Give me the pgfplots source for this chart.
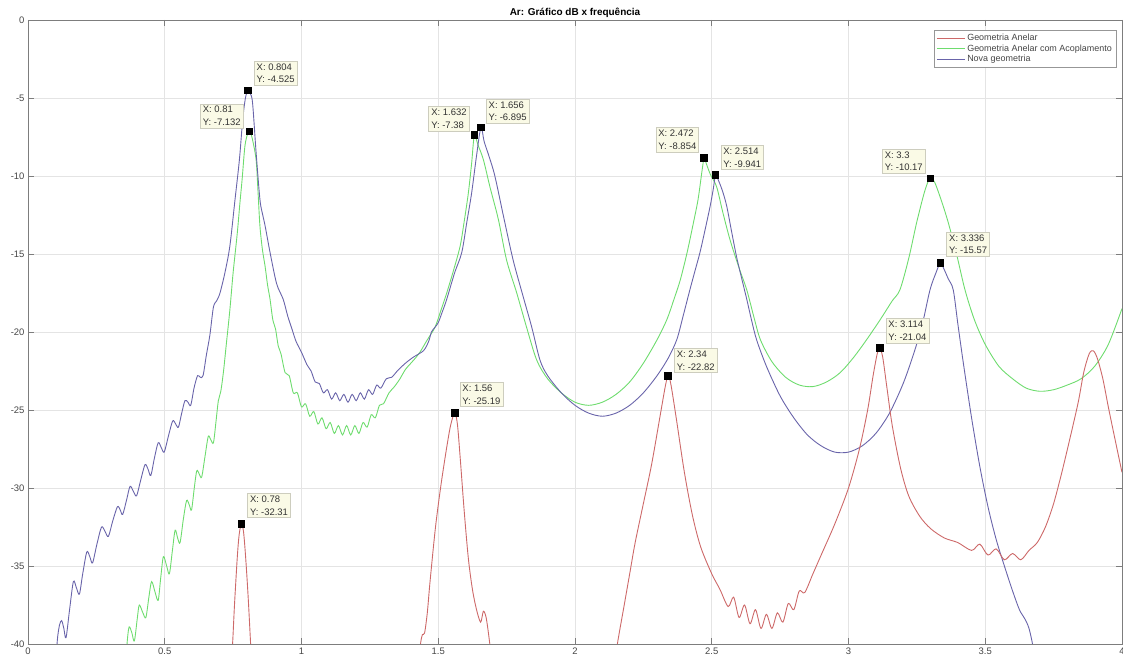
\documentclass[border=0pt]{standalone}
\usepackage{fontspec}
\setmainfont{Liberation Sans}
\usepackage{pgfplots}
\pgfplotsset{compat=1.18}
\definecolor{cred}{RGB}{205,105,105}
\definecolor{cgreen}{RGB}{110,220,110}
\definecolor{cblue}{RGB}{105,100,170}
\definecolor{tipfill}{RGB}{250,250,230}
\definecolor{tipdraw}{RGB}{205,205,190}
\definecolor{axcol}{RGB}{125,125,125}
\definecolor{gridcol}{RGB}{228,228,228}
\definecolor{labcol}{RGB}{70,70,70}
\begin{document}
\begin{tikzpicture}[tip/.style={fill=tipfill,draw=tipdraw,line width=0.6bp,font=\fontsize{9.5}{12.5}\selectfont,align=left,inner sep=2.5bp,text=black!80}]
\begin{axis}[
 scale only axis, width=1094bp, height=624bp,
 xmin=0,xmax=4,ymin=-40,ymax=0,
 xtick={0,0.5,1,1.5,2,2.5,3,3.5,4},
 ytick={-40,-35,-30,-25,-20,-15,-10,-5,0},
 /pgf/number format/assume math mode=true,
 ticklabel style={font=\fontsize{9.5}{11}\selectfont, text=labcol},
 tick align=inside, major tick length=6bp,
 every tick/.style={axcol, line width=0.6bp},
 axis line style={axcol, line width=0.8bp},
 grid=major, major grid style={gridcol, line width=0.6bp},
 title={Ar: Gráfico dB x frequência},
 title style={font=\bfseries\fontsize{10}{12}\selectfont, yshift=-7bp},
 legend style={at={(1,1)},anchor=north east,xshift=-6bp,yshift=-10bp, draw=axcol!80, font=\fontsize{9}{10.5}\selectfont, inner sep=2bp, row sep=-1.5bp, cells={anchor=west}, text=labcol},
 legend image code/.code={\draw[#1,line width=1bp] (0bp,0bp) -- (28bp,0bp);},
 every axis plot/.append style={line width=0.9bp},
]
% Geometria Anelar (first peak)
\addplot[cred, smooth, tension=0.5] coordinates {(0.74,-42) (0.748,-40) (0.755,-37.5) (0.765,-34.5) (0.772,-33) (0.78,-32.31) (0.788,-32.8) (0.796,-34.5) (0.805,-37) (0.814,-40) (0.82,-42)};
\addlegendentry{Geometria Anelar}
% Geometria Anelar com Acoplamento
\addplot[cgreen, smooth, tension=0.5] coordinates {(0.355,-42) (0.363,-39.8) (0.370,-38.9) (0.38,-39.3) (0.389,-39.8) (0.40,-38.3) (0.407,-37.5) (0.42,-38.0) (0.431,-38.3) (0.442,-37) (0.452,-36.0) (0.465,-36.7) (0.476,-37.2) (0.485,-35.8) (0.495,-34.4) (0.507,-35) (0.517,-35.5) (0.528,-34) (0.538,-32.7) (0.547,-33.2) (0.556,-33.5) (0.568,-32) (0.580,-30.8) (0.59,-31.1) (0.598,-31.4) (0.608,-30) (0.617,-28.9) (0.626,-29.1) (0.635,-29.3) (0.647,-28) (0.659,-26.7) (0.668,-26.9) (0.678,-27.1) (0.687,-25.8) (0.696,-24.4) (0.705,-23.8) (0.715,-22.5) (0.725,-20.8) (0.738,-18.6) (0.75,-16.2) (0.765,-13.7) (0.775,-11.7) (0.783,-10.2) (0.793,-8.1) (0.803,-7.3) (0.811,-7.132) (0.82,-7.6) (0.834,-8.95) (0.841,-11) (0.848,-13.2) (0.857,-14.7) (0.867,-15.8) (0.876,-17) (0.885,-17.9) (0.895,-19.2) (0.905,-19.8) (0.915,-20.9) (0.925,-21.4) (0.94,-22.6) (0.955,-22.8) (0.97,-23.9) (0.985,-23.9) (1.0,-24.8) (1.015,-24.6) (1.03,-25.4) (1.045,-25.1) (1.06,-25.9) (1.075,-25.5) (1.09,-26.2) (1.105,-25.8) (1.12,-26.5) (1.135,-26) (1.15,-26.6) (1.165,-26) (1.18,-26.6) (1.195,-26) (1.21,-26.5) (1.225,-25.8) (1.24,-26.1) (1.255,-25.3) (1.27,-25.5) (1.285,-24.7) (1.30,-24.6) (1.32,-23.9) (1.34,-23.5) (1.36,-23.0) (1.38,-22.4) (1.40,-22.0) (1.42,-21.6) (1.433,-21.3) (1.46,-20.5) (1.488,-19.7) (1.51,-18.6) (1.531,-17.5) (1.555,-16.1) (1.58,-14.5) (1.595,-12.9) (1.61,-11.1) (1.622,-9.2) (1.632,-7.38) (1.645,-8.0) (1.665,-8.95) (1.689,-10.7) (1.72,-12.8) (1.75,-15.4) (1.787,-17.5) (1.823,-19.7) (1.86,-21.8) (1.9,-23) (1.95,-23.9) (2.0,-24.5) (2.05,-24.7) (2.1,-24.5) (2.15,-24) (2.2,-23.2) (2.25,-22) (2.3,-20.5) (2.336,-19.2) (2.36,-18) (2.385,-16.66) (2.41,-14.9) (2.433,-13.0) (2.45,-11.5) (2.465,-9.6) (2.472,-8.854) (2.48,-9.2) (2.495,-9.9) (2.518,-10.7) (2.54,-12.3) (2.567,-14.1) (2.6,-15.9) (2.628,-17.3) (2.655,-19.1) (2.678,-20.5) (2.72,-21.9) (2.77,-22.9) (2.82,-23.4) (2.87,-23.5) (2.92,-23.2) (2.97,-22.6) (3.02,-21.6) (3.07,-20.4) (3.12,-19.1) (3.16,-18.0) (3.188,-17.3) (3.22,-15.3) (3.249,-13.0) (3.275,-11.2) (3.29,-10.4) (3.3,-10.17) (3.315,-10.4) (3.34,-11.6) (3.365,-13.0) (3.395,-15.0) (3.426,-17.3) (3.46,-19.2) (3.5,-20.8) (3.55,-22.2) (3.6,-23.0) (3.65,-23.6) (3.7,-23.8) (3.75,-23.7) (3.8,-23.4) (3.85,-23) (3.9,-22.2) (3.95,-20.8) (4.0,-18.5)};
\addlegendentry{Geometria Anelar com Acoplamento}
% Nova geometria
\addplot[cblue, smooth, tension=0.5] coordinates {(0.10,-42) (0.107,-39.8) (0.115,-38.8) (0.123,-38.5) (0.131,-39) (0.139,-39.6) (0.152,-37.8) (0.166,-36.0) (0.177,-36.4) (0.188,-36.8) (0.2,-35.5) (0.215,-34.1) (0.226,-34.4) (0.236,-34.8) (0.252,-33.6) (0.269,-32.5) (0.282,-32.8) (0.294,-33.1) (0.31,-32.1) (0.327,-31.2) (0.337,-31.4) (0.346,-31.7) (0.36,-30.8) (0.373,-29.9) (0.385,-30.2) (0.397,-30.5) (0.412,-29.5) (0.428,-28.5) (0.439,-28.8) (0.449,-29.2) (0.462,-28.1) (0.476,-27.1) (0.487,-27.4) (0.498,-27.7) (0.513,-26.7) (0.529,-25.7) (0.54,-25.9) (0.550,-26.1) (0.562,-25.2) (0.574,-24.4) (0.585,-24.5) (0.595,-24.7) (0.607,-23.6) (0.62,-22.8) (0.63,-22.9) (0.64,-22.8) (0.652,-21.5) (0.665,-20.2) (0.678,-18.4) (0.69,-18) (0.702,-17.5) (0.72,-16.2) (0.738,-14.5) (0.757,-11.5) (0.773,-8.95) (0.785,-6.39) (0.795,-5.0) (0.804,-4.525) (0.812,-4.7) (0.821,-5.3) (0.834,-8.5) (0.848,-11.5) (0.857,-12.4) (0.867,-13.2) (0.885,-14.9) (0.909,-16.9) (0.933,-17.9) (0.95,-19.0) (0.965,-19.8) (0.98,-20.6) (1.0,-21.3) (1.02,-22.1) (1.035,-22.5) (1.05,-23.2) (1.065,-23.3) (1.08,-23.9) (1.095,-23.7) (1.11,-24.3) (1.125,-23.9) (1.14,-24.4) (1.155,-24) (1.17,-24.5) (1.185,-24) (1.2,-24.4) (1.215,-23.9) (1.23,-24.3) (1.245,-23.7) (1.26,-24) (1.275,-23.4) (1.29,-23.6) (1.31,-23) (1.33,-22.9) (1.35,-22.5) (1.38,-22) (1.41,-21.6) (1.446,-21.2) (1.465,-20.6) (1.475,-20) (1.488,-19.7) (1.5,-19.4) (1.515,-18.7) (1.531,-17.9) (1.56,-16.2) (1.586,-14.9) (1.605,-12.9) (1.622,-11.1) (1.64,-8.7) (1.656,-6.895) (1.668,-7.8) (1.685,-8.7) (1.707,-10.0) (1.74,-12.7) (1.774,-15.4) (1.81,-17.7) (1.842,-19.7) (1.872,-21.8) (1.9,-22.8) (1.95,-23.9) (2.0,-24.7) (2.05,-25.2) (2.1,-25.4) (2.15,-25.2) (2.2,-24.7) (2.25,-23.9) (2.3,-22.8) (2.34,-21.7) (2.372,-20.5) (2.395,-19) (2.42,-17.3) (2.44,-16.0) (2.457,-14.9) (2.475,-13.5) (2.494,-11.95) (2.505,-10.9) (2.514,-9.941) (2.525,-10.3) (2.54,-11.0) (2.555,-11.95) (2.573,-13.6) (2.591,-15.2) (2.61,-16.6) (2.628,-17.9) (2.645,-19.2) (2.664,-20.5) (2.7,-22.2) (2.75,-24.1) (2.8,-25.5) (2.85,-26.6) (2.9,-27.3) (2.95,-27.7) (3.0,-27.7) (3.05,-27.3) (3.1,-26.5) (3.15,-25.2) (3.2,-23.3) (3.24,-21.3) (3.27,-19.5) (3.298,-17.3) (3.32,-16.2) (3.336,-15.57) (3.35,-16.0) (3.365,-16.6) (3.383,-17.3) (3.40,-19.5) (3.42,-22) (3.45,-25.5) (3.48,-28.6) (3.51,-31.2) (3.54,-33.3) (3.57,-35) (3.6,-36.6) (3.625,-37.8) (3.645,-38.4) (3.66,-39) (3.675,-40.2) (3.69,-42)};
\addlegendentry{Nova geometria}
% Geometria Anelar (remaining peaks)
\addplot[cred, forget plot, smooth, tension=0.5] coordinates {(1.42,-42) (1.435,-40) (1.442,-39.4) (1.45,-39.3) (1.46,-38) (1.47,-36) (1.49,-32.5) (1.51,-29.8) (1.53,-27.5) (1.545,-26) (1.56,-25.19) (1.57,-25.9) (1.58,-28) (1.595,-31.5) (1.61,-34.5) (1.625,-36.5) (1.64,-37.8) (1.655,-38.6) (1.665,-37.9) (1.675,-38.3) (1.685,-39.5) (1.695,-41) (1.70,-42)};
\addplot[cred, forget plot, smooth, tension=0.5] coordinates {(2.14,-42) (2.155,-40) (2.18,-37.5) (2.2,-35.5) (2.22,-33.5) (2.25,-31) (2.28,-28.5) (2.31,-25.5) (2.33,-23.5) (2.34,-22.82) (2.35,-23.3) (2.37,-25.5) (2.4,-29) (2.43,-31.8) (2.46,-33.8) (2.5,-35.5) (2.53,-36.5) (2.56,-37.6) (2.58,-37) (2.6,-38.3) (2.62,-37.5) (2.64,-38.7) (2.66,-37.8) (2.68,-39) (2.70,-38.1) (2.72,-39) (2.74,-38) (2.76,-38.6) (2.78,-37.4) (2.80,-37.8) (2.82,-36.6) (2.84,-36.7) (2.87,-35.5) (2.9,-34.3) (2.95,-32.3) (3.0,-30) (3.04,-27.5) (3.07,-25) (3.09,-22.8) (3.105,-21.4) (3.114,-21.04) (3.125,-21.6) (3.14,-23.5) (3.16,-26) (3.19,-28.7) (3.22,-30.5) (3.26,-31.8) (3.3,-32.6) (3.35,-33.2) (3.4,-33.5) (3.45,-34) (3.48,-33.6) (3.51,-34.3) (3.54,-33.9) (3.57,-34.6) (3.6,-34.2) (3.63,-34.6) (3.66,-34) (3.69,-33.5) (3.72,-32.5) (3.75,-31) (3.78,-29) (3.81,-26.8) (3.84,-24.5) (3.86,-22.6) (3.88,-21.4) (3.895,-21.2) (3.91,-21.7) (3.93,-23) (3.95,-24.8) (3.97,-26.5) (4.0,-29)};
% data tip markers
\addplot[only marks, mark=square*, mark size=3.3bp, black, forget plot] coordinates {(0.804,-4.525) (0.81,-7.132) (1.632,-7.38) (1.656,-6.895) (2.472,-8.854) (2.514,-9.941) (3.3,-10.17) (3.336,-15.57) (0.78,-32.31) (1.56,-25.19) (2.34,-22.82) (3.114,-21.04)};
% data tips
\node[tip,anchor=south west,xshift=6bp,yshift=5bp] at (axis cs:0.804,-4.525) {X: 0.804\\Y: -4.525};
\node[tip,anchor=south east,xshift=-6bp,yshift=3bp] at (axis cs:0.81,-7.132) {X: 0.81\\Y: -7.132};
\node[tip,anchor=south east,xshift=-5bp,yshift=4bp] at (axis cs:1.632,-7.38) {X: 1.632\\Y: -7.38};
\node[tip,anchor=south west,xshift=5bp,yshift=4bp] at (axis cs:1.656,-6.895) {X: 1.656\\Y: -6.895};
\node[tip,anchor=south east,xshift=-5bp,yshift=6bp] at (axis cs:2.472,-8.854) {X: 2.472\\Y: -8.854};
\node[tip,anchor=south west,xshift=5bp,yshift=5bp] at (axis cs:2.514,-9.941) {X: 2.514\\Y: -9.941};
\node[tip,anchor=south east,xshift=-5bp,yshift=5bp] at (axis cs:3.3,-10.17) {X: 3.3\\Y: -10.17};
\node[tip,anchor=south west,xshift=6bp,yshift=6bp] at (axis cs:3.336,-15.57) {X: 3.336\\Y: -15.57};
\node[tip,anchor=south west,xshift=6bp,yshift=5bp] at (axis cs:3.114,-21.04) {X: 3.114\\Y: -21.04};
\node[tip,anchor=south west,xshift=6bp,yshift=3bp] at (axis cs:2.34,-22.82) {X: 2.34\\Y: -22.82};
\node[tip,anchor=south west,xshift=5bp,yshift=6bp] at (axis cs:1.56,-25.19) {X: 1.56\\Y: -25.19};
\node[tip,anchor=south west,xshift=6bp,yshift=6bp] at (axis cs:0.78,-32.31) {X: 0.78\\Y: -32.31};
\end{axis}
\pgfresetboundingbox
\path[use as bounding box] (current axis.south west) ++(-28bp,-14bp) rectangle ++(1123bp,658bp);
\end{tikzpicture}
\end{document}
